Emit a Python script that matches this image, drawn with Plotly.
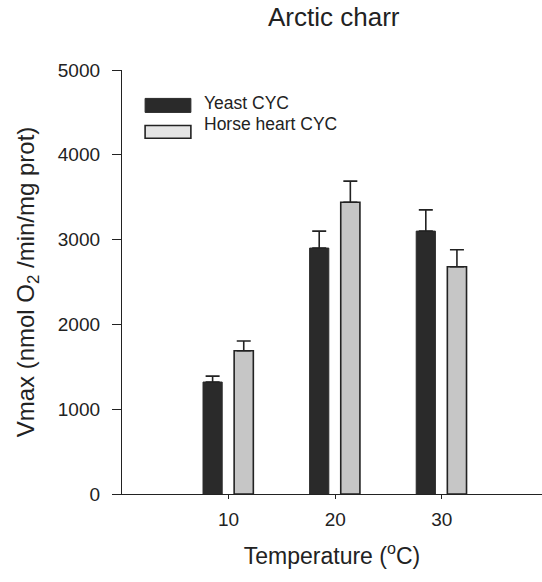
import plotly.graph_objects as go

# Vmax of cytochrome c oxidase in Arctic charr at three assay temperatures
temperatures = [10, 20, 30]
yeast_vmax = [1320, 2900, 3100]
yeast_err = [70, 200, 250]
horse_vmax = [1690, 3440, 2680]
horse_err = [115, 250, 200]
series_names = ["Yeast CYC", "Horse heart CYC"]

FONT = "Liberation Sans, Arial, sans-serif"
INK = "#222222"
DARK = "#2a2a2a"
LIGHT = "#c6c6c6"

fig = go.Figure()
fig.add_trace(go.Bar(
    x=temperatures, y=yeast_vmax, name=series_names[0],
    offset=-2.4, width=1.8,
    marker=dict(color=DARK, line=dict(color=DARK, width=1)),
    error_y=dict(type="data", array=yeast_err, symmetric=False, arrayminus=[0, 0, 0],
                 color=INK, thickness=1.6, width=7),
))
fig.add_trace(go.Bar(
    x=temperatures, y=horse_vmax, name=series_names[1],
    offset=0.52, width=1.8,
    marker=dict(color=LIGHT, line=dict(color=INK, width=1.6)),
    error_y=dict(type="data", array=horse_err, symmetric=False, arrayminus=[0, 0, 0],
                 color=INK, thickness=1.6, width=7),
))

# Hand-placed legend: wide swatches with labels
legend_rows = [
    # (swatch bottom, swatch top, label centre, fill, edge, edge width)
    (0.900, 0.933, 0.922, DARK, DARK, 1),
    (0.839, 0.869, 0.872, "#e4e4e4", INK, 1.6),
]
shapes = []
annotations = []
for (y0, y1, yt, fill, edge, lw), name in zip(legend_rows, series_names):
    shapes.append(dict(type="rect", xref="paper", yref="paper",
                       x0=0.055, x1=0.164, y0=y0, y1=y1,
                       fillcolor=fill, line=dict(color=edge, width=lw)))
    annotations.append(dict(xref="paper", yref="paper", x=0.19, y=yt, text=name,
                            showarrow=False, xanchor="left", yanchor="middle",
                            font=dict(family=FONT, size=17.5, color=INK)))

annotations.append(dict(xref="paper", yref="paper", x=0.505, y=1.0, yshift=53,
                        text="Arctic charr", showarrow=False,
                        xanchor="center", yanchor="middle",
                        font=dict(family=FONT, size=26, color=INK)))

fig.update_layout(
    width=542, height=582,
    margin=dict(l=122, r=0, t=70, b=88),
    paper_bgcolor="white", plot_bgcolor="white",
    showlegend=False,
    shapes=shapes, annotations=annotations,
    font=dict(family=FONT, size=19, color=INK),
    xaxis=dict(
        range=[0, 39.4], tickvals=temperatures, ticktext=[str(t) for t in temperatures],
        showline=True, linecolor=INK, linewidth=1.3,
        ticks="outside", ticklen=4, tickwidth=1.3, tickcolor=INK,
        ticklabelstandoff=4,
        showgrid=False, zeroline=False,
        tickfont=dict(family=FONT, size=19, color=INK),
        title=dict(text="Temperature (<sup>o</sup>C)", standoff=18,
                   font=dict(family=FONT, size=23, color=INK)),
    ),
    yaxis=dict(
        range=[0, 5000], tickvals=[0, 1000, 2000, 3000, 4000, 5000],
        showline=True, linecolor=INK, linewidth=1.3,
        ticks="outside", ticklen=9, tickwidth=1.3, tickcolor=INK,
        ticklabelstandoff=8,
        showgrid=False, zeroline=False,
        tickfont=dict(family=FONT, size=19, color=INK),
        title=dict(text="Vmax (nmol O<sub>2</sub> /min/mg prot)", standoff=16,
                   font=dict(family=FONT, size=24, color=INK)),
    ),
)

fig.write_html("out.html")
